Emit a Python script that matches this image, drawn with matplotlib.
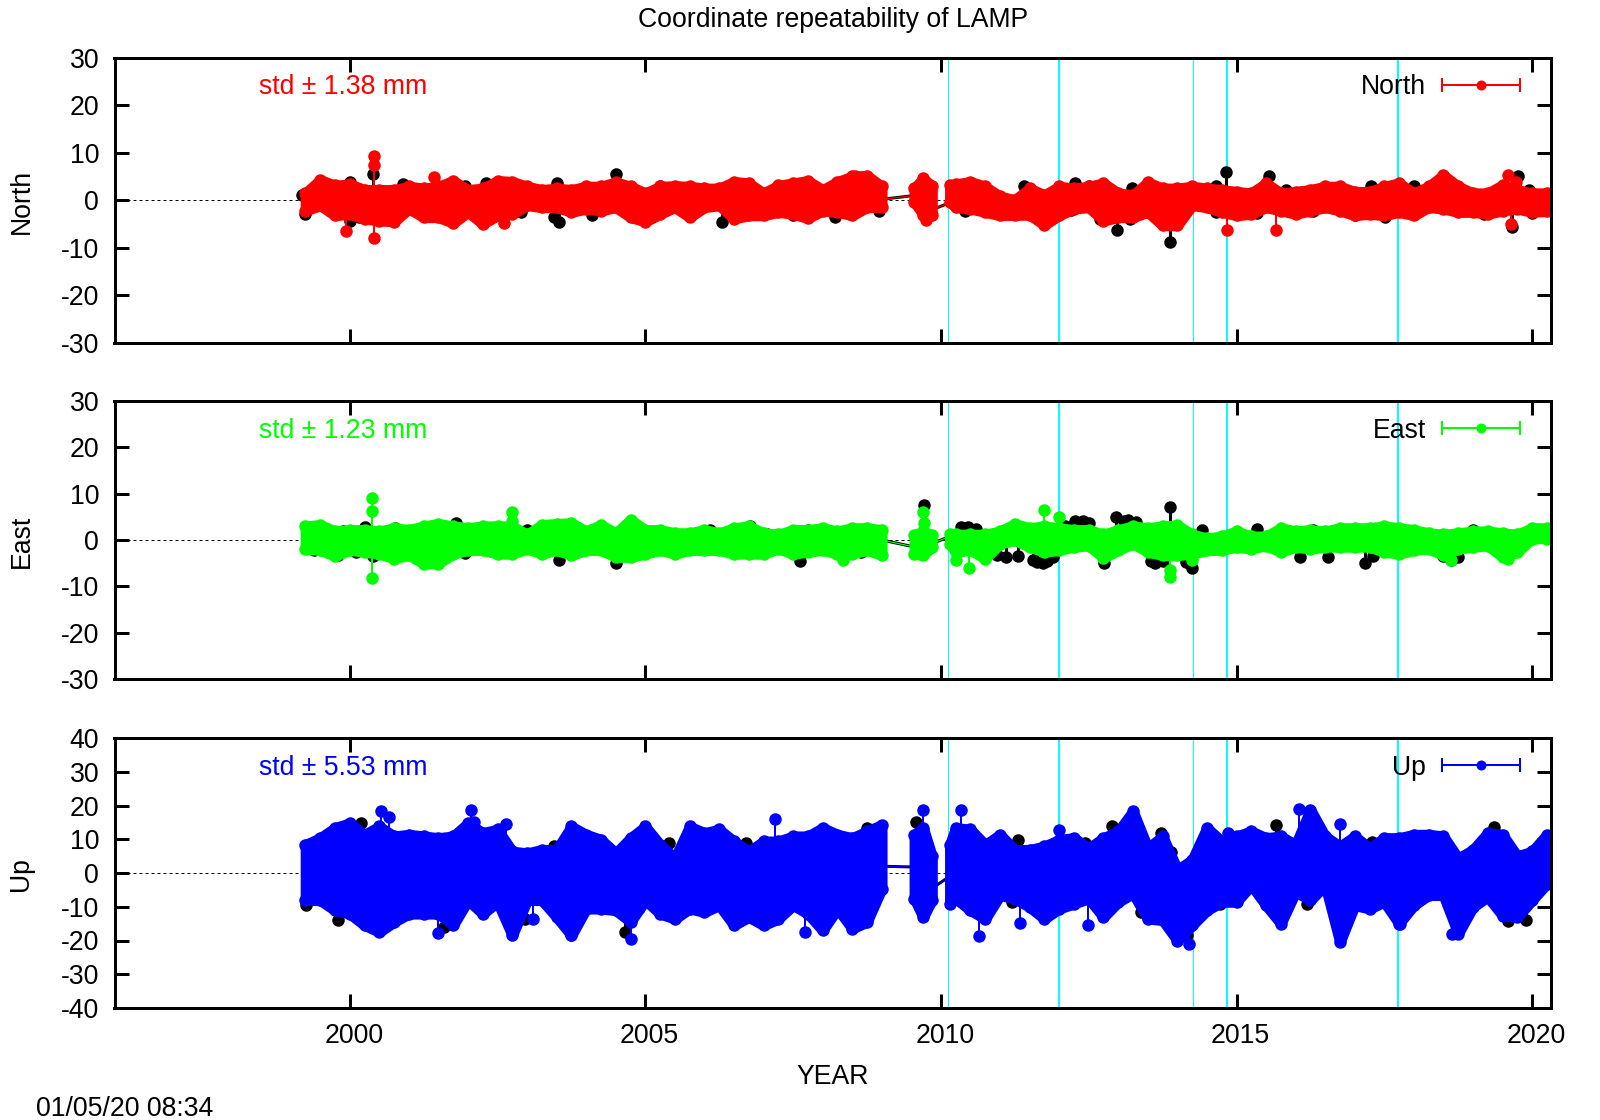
import matplotlib
matplotlib.use("Agg")
import matplotlib.pyplot as plt
from matplotlib.transforms import ScaledTranslation
import numpy as np

plt.rcParams['font.family'] = ['Liberation Sans', 'DejaVu Sans']
plt.rcParams['axes.unicode_minus'] = False

W, H = 1600, 1120

# envelope of the coloured points (mm)
years = [1999.25, 1999.5, 1999.75,
         2000, 2000.25, 2000.5, 2000.75, 2001, 2001.25, 2001.5, 2001.75,
         2002, 2002.25, 2002.5, 2002.75, 2003, 2003.25, 2003.5, 2003.75,
         2004, 2004.25, 2004.5, 2004.75, 2005, 2005.25, 2005.5, 2005.75,
         2006, 2006.25, 2006.5, 2006.75, 2007, 2007.25, 2007.5, 2007.75,
         2008, 2008.25, 2008.5, 2008.75, 2009,
         2009.55, 2009.7, 2009.85,
         2010.15, 2010.25, 2010.5, 2010.75,
         2011, 2011.25, 2011.5, 2011.75, 2012, 2012.25, 2012.5, 2012.75,
         2013, 2013.25, 2013.5, 2013.75, 2014, 2014.25, 2014.5, 2014.75,
         2015, 2015.25, 2015.5, 2015.75, 2016, 2016.25, 2016.5, 2016.75,
         2017, 2017.25, 2017.5, 2017.75, 2018, 2018.25, 2018.5, 2018.75,
         2019, 2019.25, 2019.5, 2019.75, 2020, 2020.25]

north_hi = [1.5, 4.3, 3.1, 3.4, 2.2, 2.2, 2.2, 2.9, 2.5, 2.9, 4.1,
            2.2, 2.5, 4.1, 3.9, 2.9, 2.2, 2.5, 2.2, 2.9, 2.9, 3.8, 2.9,
            1.5, 2.9, 3.0, 2.9, 2.5, 2.5, 3.9, 3.6, 1.5, 3.1, 3.6, 4.1,
            2.2, 3.9, 5.0, 5.2, 2.9,
            2.5, 4.6, 3.0,
            3.2, 3.4, 3.9, 2.9, 0.8, 0.1, 2.5, 1.1, 2.9, 2.5, 2.9, 3.6,
            1.5, 1.1, 3.8, 2.5, 2.5, 2.9, 2.5, 2.2, 1.8, 1.5, 3.6, 1.5,
            1.8, 2.2, 2.9, 2.9, 1.8, 1.8, 2.9, 3.6, 1.5, 2.9, 5.3, 2.9,
            1.5, 1.5, 3.2, 2.2, 1.5, 1.5]
north_lo = [-2.2, -1.1, -3.2, -2.9, -3.9, -4.3, -4.5, -1.8, -3.6, -3.6, -4.8,
            -2.5, -5.0, -3.2, -2.9, -1.1, -1.5, -1.5, -2.5, -1.8, -2.2, -1.5, -3.6,
            -4.5, -2.9, -1.5, -3.6, -1.5, -1.1, -3.9, -3.2, -3.2, -2.5, -2.9, -3.8,
            -2.2, -2.5, -3.2, -1.5, -1.5,
            -0.4, -3.0, -3.0,
            -0.4, -1.5, -1.8, -2.5, -3.2, -3.1, -3.1, -5.2, -3.2, -1.8, -1.5, -4.3,
            -3.6, -3.6, -2.5, -5.3, -5.3, -1.1, -1.5, -2.5, -3.2, -2.9, -1.5, -2.2,
            -2.9, -2.2, -1.5, -2.2, -3.2, -2.9, -3.2, -2.5, -3.2, -1.5, -1.8, -2.5,
            -2.5, -2.9, -2.2, -1.8, -2.5, -2.3]

east_hi = [3.0, 3.3, 1.9, 2.2, 2.2, 1.9, 2.6, 2.2, 3.0, 3.5, 3.0,
           2.6, 3.0, 3.0, 3.0, 1.2, 3.3, 3.5, 3.7, 1.9, 3.3, 1.5, 4.4,
           2.2, 2.2, 1.5, 1.5, 2.2, 1.5, 2.6, 3.0, 1.5, 1.2, 2.2, 2.2,
           2.6, 1.9, 2.6, 2.6, 2.2,
           1.0, 2.0, 1.0,
           1.2, 1.2, 1.2, 1.2, 1.9, 3.5, 2.6, 3.0, 2.6, 2.2, 2.2, 1.2,
           2.2, 3.0, 2.6, 3.0, 3.2, 1.2, 0.4, 0.8, 1.9, 0.8, 0.8, 2.6,
           1.9, 2.2, 1.9, 2.6, 2.6, 2.6, 3.0, 2.6, 2.2, 1.5, 1.2, 1.5,
           1.9, 1.9, 1.5, 1.2, 2.6, 2.6]
east_lo = [-2.0, -2.2, -3.5, -2.2, -2.6, -3.0, -4.0, -3.3, -5.1, -5.1, -3.0,
           -2.2, -2.2, -3.0, -3.0, -1.9, -3.0, -2.2, -3.3, -2.2, -2.2, -3.7, -3.7,
           -3.0, -2.2, -3.0, -2.2, -2.2, -2.2, -3.0, -3.0, -3.0, -1.9, -3.0, -2.6,
           -2.2, -3.0, -3.0, -2.2, -3.3,
           -3.0, -3.3, -1.5,
           -0.8, -2.6, -2.2, -4.0, -0.8, -0.1, -1.5, -2.6, -2.2, -1.5, -1.2, -3.9,
           -2.2, -0.8, -2.6, -3.3, -3.3, -3.0, -2.2, -2.2, -1.5, -1.9, -1.2, -2.6,
           -1.5, -1.9, -1.5, -1.5, -1.5, -1.5, -2.6, -3.0, -2.2, -1.9, -3.3, -1.9,
           -1.5, -1.2, -3.7, -2.6, 0.3, 0.3]

up_hi = [8.4, 10.4, 13.4, 14.8, 11.4, 13.8, 10.9, 11.4, 10.9, 10.4, 10.9,
         14.8, 11.9, 12.9, 6.4, 5.9, 6.9, 6.9, 13.8, 11.4, 9.9, 5.9, 10.4,
         13.8, 8.4, 4.4, 13.8, 11.9, 12.9, 9.4, 6.4, 9.4, 9.4, 10.9, 10.9,
         13.4, 11.4, 10.4, 12.4, 14.3,
         11.4, 13.4, 5.0,
         8.4, 13.4, 12.9, 8.4, 11.4, 6.9, 6.9, 7.9, 9.9, 10.4, 7.4, 10.4,
         12.4, 18.3, 7.4, 10.9, 1.0, 3.9, 13.4, 9.4, 10.9, 12.4, 10.4, 10.9,
         8.4, 18.8, 10.9, 7.9, 10.9, 7.4, 10.4, 10.4, 11.4, 11.4, 10.9, 4.4,
         6.9, 11.9, 11.4, 5.0, 6.4, 11.4]
up_lo = [-8.1, -8.1, -11.1, -12.1, -15.5, -17.5, -14.5, -12.1, -12.1, -12.1, -15.5,
         -8.1, -12.1, -8.6, -18.5, -8.1, -8.1, -13.1, -18.5, -10.6, -10.6, -11.1, -14.5,
         -8.1, -12.1, -13.6, -10.6, -11.6, -9.6, -15.5, -13.1, -15.5, -13.6, -9.6, -12.1,
         -17.0, -10.6, -16.5, -14.5, -4.6,
         -7.6, -13.1, -8.0,
         -9.1, -7.6, -11.1, -13.6, -6.6, -7.6, -10.1, -13.6, -10.6, -9.1, -7.6, -13.1,
         -8.6, -6.1, -13.6, -14.0, -20.0, -15.5, -11.1, -8.6, -8.6, -3.6, -9.6, -15.0,
         -5.6, -8.1, -3.6, -20.5, -9.6, -10.6, -8.6, -15.0, -9.6, -6.6, -6.6, -18.0,
         -10.1, -7.1, -12.6, -13.1, -8.1, -3.2]

# single coloured points sticking out of the envelope
north_out_x = [2000.41, 2000.41, 2000.41, 1999.93, 2001.42, 2002.61, 2009.75, 2008.55,
               2014.84, 2015.66, 2019.59, 2019.73, 2019.65]
north_out_y = [9.2, 7.4, -8.0, -6.5, 4.9, -4.7, -4.2, 5.0, -6.2, -6.3, 5.3, 3.9, -4.9]
east_out_x = [2000.37, 2000.37, 2000.37, 2002.75, 2002.75, 2009.7, 2009.72, 2010.25, 2010.47,
              2011.75, 2011.99, 2013.87, 2013.87, 2014.24, 2018.62, 2008.35, 2019.6]
east_out_y = [9.0, 6.2, -8.1, 6.1, 4.0, 6.0, 3.6, -4.3, -6.0, 6.5, 5.0, -6.4, -8.0, -4.4, -4.3, -4.3, -4.2]
up_out_x = [2000.52, 2000.66, 2001.5, 2002.05, 2002.65, 2003.1, 2003.75, 2009.7, 2010.34,
            2010.65, 2011.33, 2012.0, 2012.49, 2016.06, 2016.75, 2017.76, 2018.64, 2004.75,
            2002.1, 2007.2, 2007.7, 2014.2, 2014.85]
up_out_y = [18.5, 16.5, -17.7, 18.6, 14.5, -13.5, -18.5, 18.7, 18.6,
            -18.6, -14.8, 12.7, -15.4, 19.0, 14.4, -15.0, -18.0, -19.5,
            15.0, 16.0, -17.4, -21.0, 12.0]

# black series, only the points that show behind the coloured one
north_blk_x = [1999.2, 2000.0, 2000.4, 2000.9, 2001.95, 2002.3, 2003.5, 2004.51, 2005.25, 2006.7,
               2008.2, 2011.41, 2012.27, 2012.51, 2013.24, 2014.65, 2014.83, 2015.55, 2015.83, 2016.1,
               2017.28, 2018.0, 2019.76, 2019.94,
               1999.25, 2000.0, 2000.15, 2002.9, 2003.54, 2003.45, 2004.1, 2006.3, 2007.5, 2008.2,
               2008.95, 2010.4, 2012.2, 2012.69, 2012.98, 2013.2, 2013.87, 2014.65, 2015.35, 2016.3,
               2017.0, 2017.52, 2019.18, 2019.66, 2020.0]
north_blk_y = [1.0, 3.8, 5.6, 3.4, 2.9, 3.6, 3.6, 5.6, 2.9, 1.8,
               3.0, 3.0, 3.6, 2.9, 2.5, 2.9, 6.0, 5.2, 2.2, 1.8,
               2.9, 2.9, 5.1, 2.2,
               -2.9, -4.3, -3.6, -2.5, -4.6, -3.5, -3.2, -4.6, -3.2, -3.5,
               -2.2, -2.2, -2.0, -3.9, -6.2, -3.9, -8.8, -2.5, -2.6, -2.2,
               -3.2, -3.6, -2.9, -5.7, -2.7]

east_blk_x = [1999.88, 2000.26, 2000.77, 2001.8, 2002.99, 2004.09, 2005.86, 2006.1, 2006.77, 2007.06,
              2007.75, 2009.71, 2010.34, 2010.45, 2010.6, 2012.1, 2012.27, 2012.4, 2012.5, 2012.96,
              2013.1, 2013.17, 2013.3, 2013.87, 2014.41, 2015.35, 2016.3, 2019.0,
              1999.4, 1999.8, 2000.1, 2000.4, 2001.95, 2003.54, 2004.51, 2007.62, 2008.65,
              2010.4, 2010.95, 2011.1, 2011.3, 2011.55, 2011.62, 2011.72, 2011.8, 2011.9,
              2012.76, 2013.55, 2013.62, 2013.75, 2014.15, 2014.24, 2016.07, 2016.55, 2017.18, 2017.31,
              2018.62, 2018.5, 2018.75]
east_blk_y = [1.9, 2.7, 2.6, 3.7, 2.1, 2.1, 1.5, 2.2, 3.0, 1.2,
              2.2, 7.6, 2.9, 2.9, 2.3, 3.0, 4.2, 4.0, 3.6, 5.0,
              4.2, 4.4, 3.8, 7.2, 2.2, 2.3, 2.2, 2.2,
              -2.2, -3.2, -2.6, -3.5, -2.7, -4.3, -5.0, -4.5, -2.5,
              -2.0, -3.3, -3.6, -3.5, -4.3, -4.7, -4.9, -4.6, -3.7,
              -4.9, -4.6, -5.0, -4.6, -4.8, -6.1, -3.7, -3.7, -4.9, -3.5,
              -4.3, -3.5, -3.6]

up_blk_x = [2000.19, 2002.05, 2003.45, 2005.4, 2006.7, 2008.75, 2009.58, 2011.3, 2012.44, 2012.9,
            2013.72, 2013.9, 2015.66, 2017.3, 2018.63, 2019.35, 2019.8,
            1999.26, 1999.8, 2001.6, 2002.96, 2004.65, 2004.9, 2006.03, 2006.5, 2011.2, 2012.1,
            2013.38, 2014.17, 2014.72, 2016.2, 2018.2, 2019.6, 2019.9]
up_blk_y = [14.8, 10.0, 8.0, 9.0, 9.0, 13.3, 15.2, 9.8, 8.8, 13.8,
            12.0, 6.3, 14.3, 9.3, 6.8, 13.6, 4.9,
            -9.5, -14.0, -16.0, -13.5, -17.4, -10.5, -10.5, -14.0, -8.6, -8.5,
            -11.5, -18.4, -9.2, -9.3, -6.5, -14.2, -14.0]

# lines across the data gaps
north_gap_x = [2009.0, 2009.55, np.nan, 2009.85, 2010.15]
north_gap_y = [0.2, 1.0, np.nan, -2.0, -0.5]
east_gap_x = [2009.0, 2009.55, np.nan, 2009.85, 2010.15]
east_gap_y = [0.0, -1.5, np.nan, -0.8, 0.8]
up_gap_x = [2009.0, 2009.5, np.nan, 2009.85, 2010.15]
up_gap_y = [2.0, 1.8, np.nan, -4.5, -1.0]

event_years = [2010.115, 2011.997, 2014.26, 2014.84, 2017.73]
event_widths = [1, 2, 1, 2, 2]

panels = [
    dict(name='North', color='#ff0000', std='std \u00b1 1.38 mm', hi=north_hi, lo=north_lo,
         out_x=north_out_x, out_y=north_out_y, blk_x=north_blk_x, blk_y=north_blk_y,
         gap_x=north_gap_x, gap_y=north_gap_y,
         yticks=np.arange(-30, 31, 10), ylim=(-30, 30), box=(57.5, 343)),
    dict(name='East', color='#00ff00', std='std \u00b1 1.23 mm', hi=east_hi, lo=east_lo,
         out_x=east_out_x, out_y=east_out_y, blk_x=east_blk_x, blk_y=east_blk_y,
         gap_x=east_gap_x, gap_y=east_gap_y,
         yticks=np.arange(-30, 31, 10), ylim=(-30, 30), box=(401, 679)),
    dict(name='Up', color='#0000ff', std='std \u00b1 5.53 mm', hi=up_hi, lo=up_lo,
         out_x=up_out_x, out_y=up_out_y, blk_x=up_blk_x, blk_y=up_blk_y,
         gap_x=up_gap_x, gap_y=up_gap_y,
         yticks=np.arange(-40, 41, 10), ylim=(-40, 40), box=(738, 1008)),
]

px = 72 / 100  # one pixel in points
FS = 19.2
MS = 9.0
left, right = 114.5, 1551

fig = plt.figure(figsize=(W / 100, H / 100), dpi=100)
yrs = np.array(years)
breaks = np.where(np.diff(yrs) > 0.28)[0] + 1

for i, p in enumerate(panels):
    top, bottom = p['box']
    height = bottom - top
    ax = fig.add_axes([left / W, 1 - bottom / H, (right - left) / W, height / H])
    ax.set_xlim(1996.02, 2020.32)
    ax.set_ylim(*p['ylim'])
    ax.set_xticks([2000, 2005, 2010, 2015, 2020])
    ax.set_yticks(p['yticks'])
    ax.tick_params(direction='in', length=14 * px, width=3 * px, top=True, right=True,
                   labelsize=FS, labelbottom=(i == 2))
    ax.tick_params(axis='y', pad=11)
    ax.tick_params(axis='x', pad=11)
    # year labels sit a little right of their ticks
    for lab in ax.get_xticklabels():
        lab.set_transform(lab.get_transform() + ScaledTranslation(4 / 100, 0, fig.dpi_scale_trans))
    for s in ax.spines.values():
        s.set_linewidth(3 * px)
        s.set_zorder(10)

    ax.axhline(0, color='k', lw=1 * px, dashes=(3, 3), zorder=1)
    for ey, ew in zip(event_years, event_widths):
        ax.axvline(ey, color='#00ffff', lw=ew * px, zorder=1.5)

    # black series under the coloured one
    ax.vlines(p['blk_x'], 0, p['blk_y'], color='k', lw=3 * px, zorder=2)
    ax.plot(p['blk_x'], p['blk_y'], 'o', color='k', ms=MS, mew=0, zorder=2)
    ax.plot(p['gap_x'], p['gap_y'], color='k', lw=3 * px, zorder=2)
    ax.plot(p['gap_x'], p['gap_y'], color=p['color'], lw=1.2 * px, zorder=3)

    hi = np.array(p['hi'])
    lo = np.array(p['lo'])
    for x_s, hi_s, lo_s in zip(np.split(yrs, breaks), np.split(hi, breaks), np.split(lo, breaks)):
        ax.fill_between(x_s, lo_s, hi_s, color=p['color'], lw=10.5 * px, joinstyle='round', zorder=3)
    ax.plot(yrs, hi, 'o', color=p['color'], ms=MS, mew=0, zorder=3)
    ax.plot(yrs, lo, 'o', color=p['color'], ms=MS, mew=0, zorder=3)

    ax.vlines(p['out_x'], 0, p['out_y'], color=p['color'], lw=2 * px, zorder=3)
    ax.plot(p['out_x'], p['out_y'], 'o', color=p['color'], ms=MS, mew=0, zorder=3)

    # key and std text sit a fixed distance under the top edge
    ky = 1 - 27 / height
    ty = 1 - 30 / height
    ax.text(0.1006, ty, p['std'], color=p['color'], fontsize=FS, va='center', ha='left',
            transform=ax.transAxes, zorder=6)
    ax.text(0.9130, ty, p['name'], color='k', fontsize=FS, va='center', ha='right',
            transform=ax.transAxes, zorder=6)
    ax.plot([0.924, 0.9785], [ky, ky], color=p['color'], lw=2 * px, transform=ax.transAxes, zorder=6)
    ax.plot([0.924, 0.9785], [ky, ky], '|', color=p['color'], ms=14 * px, mew=2 * px,
            transform=ax.transAxes, zorder=6)
    ax.plot([0.9515], [ky], 'o', color=p['color'], ms=10 * px, mew=0, transform=ax.transAxes, zorder=6)

    fig.text(21.5 / W, 1 - ((top + bottom) / 2 + 1) / H, p['name'], rotation=90, fontsize=FS,
             ha='center', va='center')

fig.text(833 / W, 1 - 20 / H, 'Coordinate repeatability of LAMP', fontsize=FS, ha='center', va='center')
fig.text(833 / W, 1 - 1077 / H, 'YEAR', fontsize=FS, ha='center', va='center')
fig.text(35.5 / W, 1 - 1109 / H, '01/05/20 08:34', fontsize=FS, ha='left', va='center')

fig.savefig('out.png', dpi=100)
